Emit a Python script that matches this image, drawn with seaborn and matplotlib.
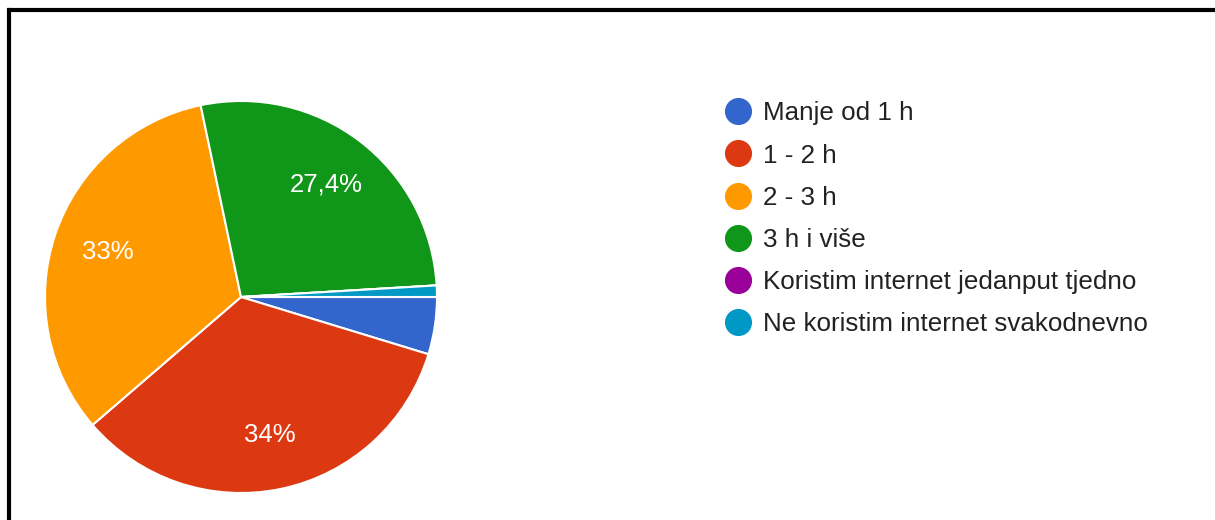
import matplotlib
matplotlib.use("Agg")
import matplotlib.pyplot as plt
import seaborn as sns
from matplotlib.lines import Line2D

# survey answers (counts), Google Forms style pie
categories = ["Manje od 1 h", "1 - 2 h", "2 - 3 h", "3 h i više",
              "Koristim internet jedanput tjedno", "Ne koristim internet svakodnevno"]
counts = [5, 36, 35, 29, 0, 1]
colors = ["#3366cc", "#dc3912", "#ff9900", "#109618", "#990099", "#0099c6"]

sns.set_theme(style="white")
plt.rcParams['font.family'] = ['Liberation Sans', 'DejaVu Sans']

fig = plt.figure(figsize=(12.15, 5.2), dpi=100)
ax = fig.add_axes([45 / 1215, 27 / 520, 392 / 1215, 392 / 520])


def fmt_pct(p):
    if p < 5:
        return ""
    return ("%.3g" % p).replace(".", ",") + "%"


wedges, texts, autotexts = ax.pie(
    counts, colors=colors, startangle=0, counterclock=False,
    autopct=fmt_pct, pctdistance=0.72, radius=1,
    wedgeprops=dict(edgecolor="white", linewidth=1.5),
    textprops=dict(color="white", fontsize=18.5))
ax.set_xlim(-1, 1)
ax.set_ylim(-1, 1)
ax.set_aspect("equal")
ax.axis("off")

handles = [Line2D([], [], marker="o", linestyle="none", markersize=18.5,
                  markerfacecolor=c, markeredgecolor=c) for c in colors]
fig.legend(handles, categories, loc="upper left",
           bbox_to_anchor=(715 / 1215, 1 - 91 / 520), frameon=False,
           fontsize=18.7, labelcolor="#222222", handlelength=1.0,
           handletextpad=0.45, labelspacing=0.7, borderaxespad=0)

# black frame at top and left (screenshot crop)
fig.add_artist(Line2D([9 / 1215, 1.01], [1 - 10 / 520, 1 - 10 / 520],
                      transform=fig.transFigure, color="black", linewidth=3))
fig.add_artist(Line2D([9 / 1215, 9 / 1215], [1 - 10 / 520, -0.01],
                      transform=fig.transFigure, color="black", linewidth=3,
                      solid_capstyle="projecting"))

fig.savefig("out.png", dpi=100, facecolor="white")
